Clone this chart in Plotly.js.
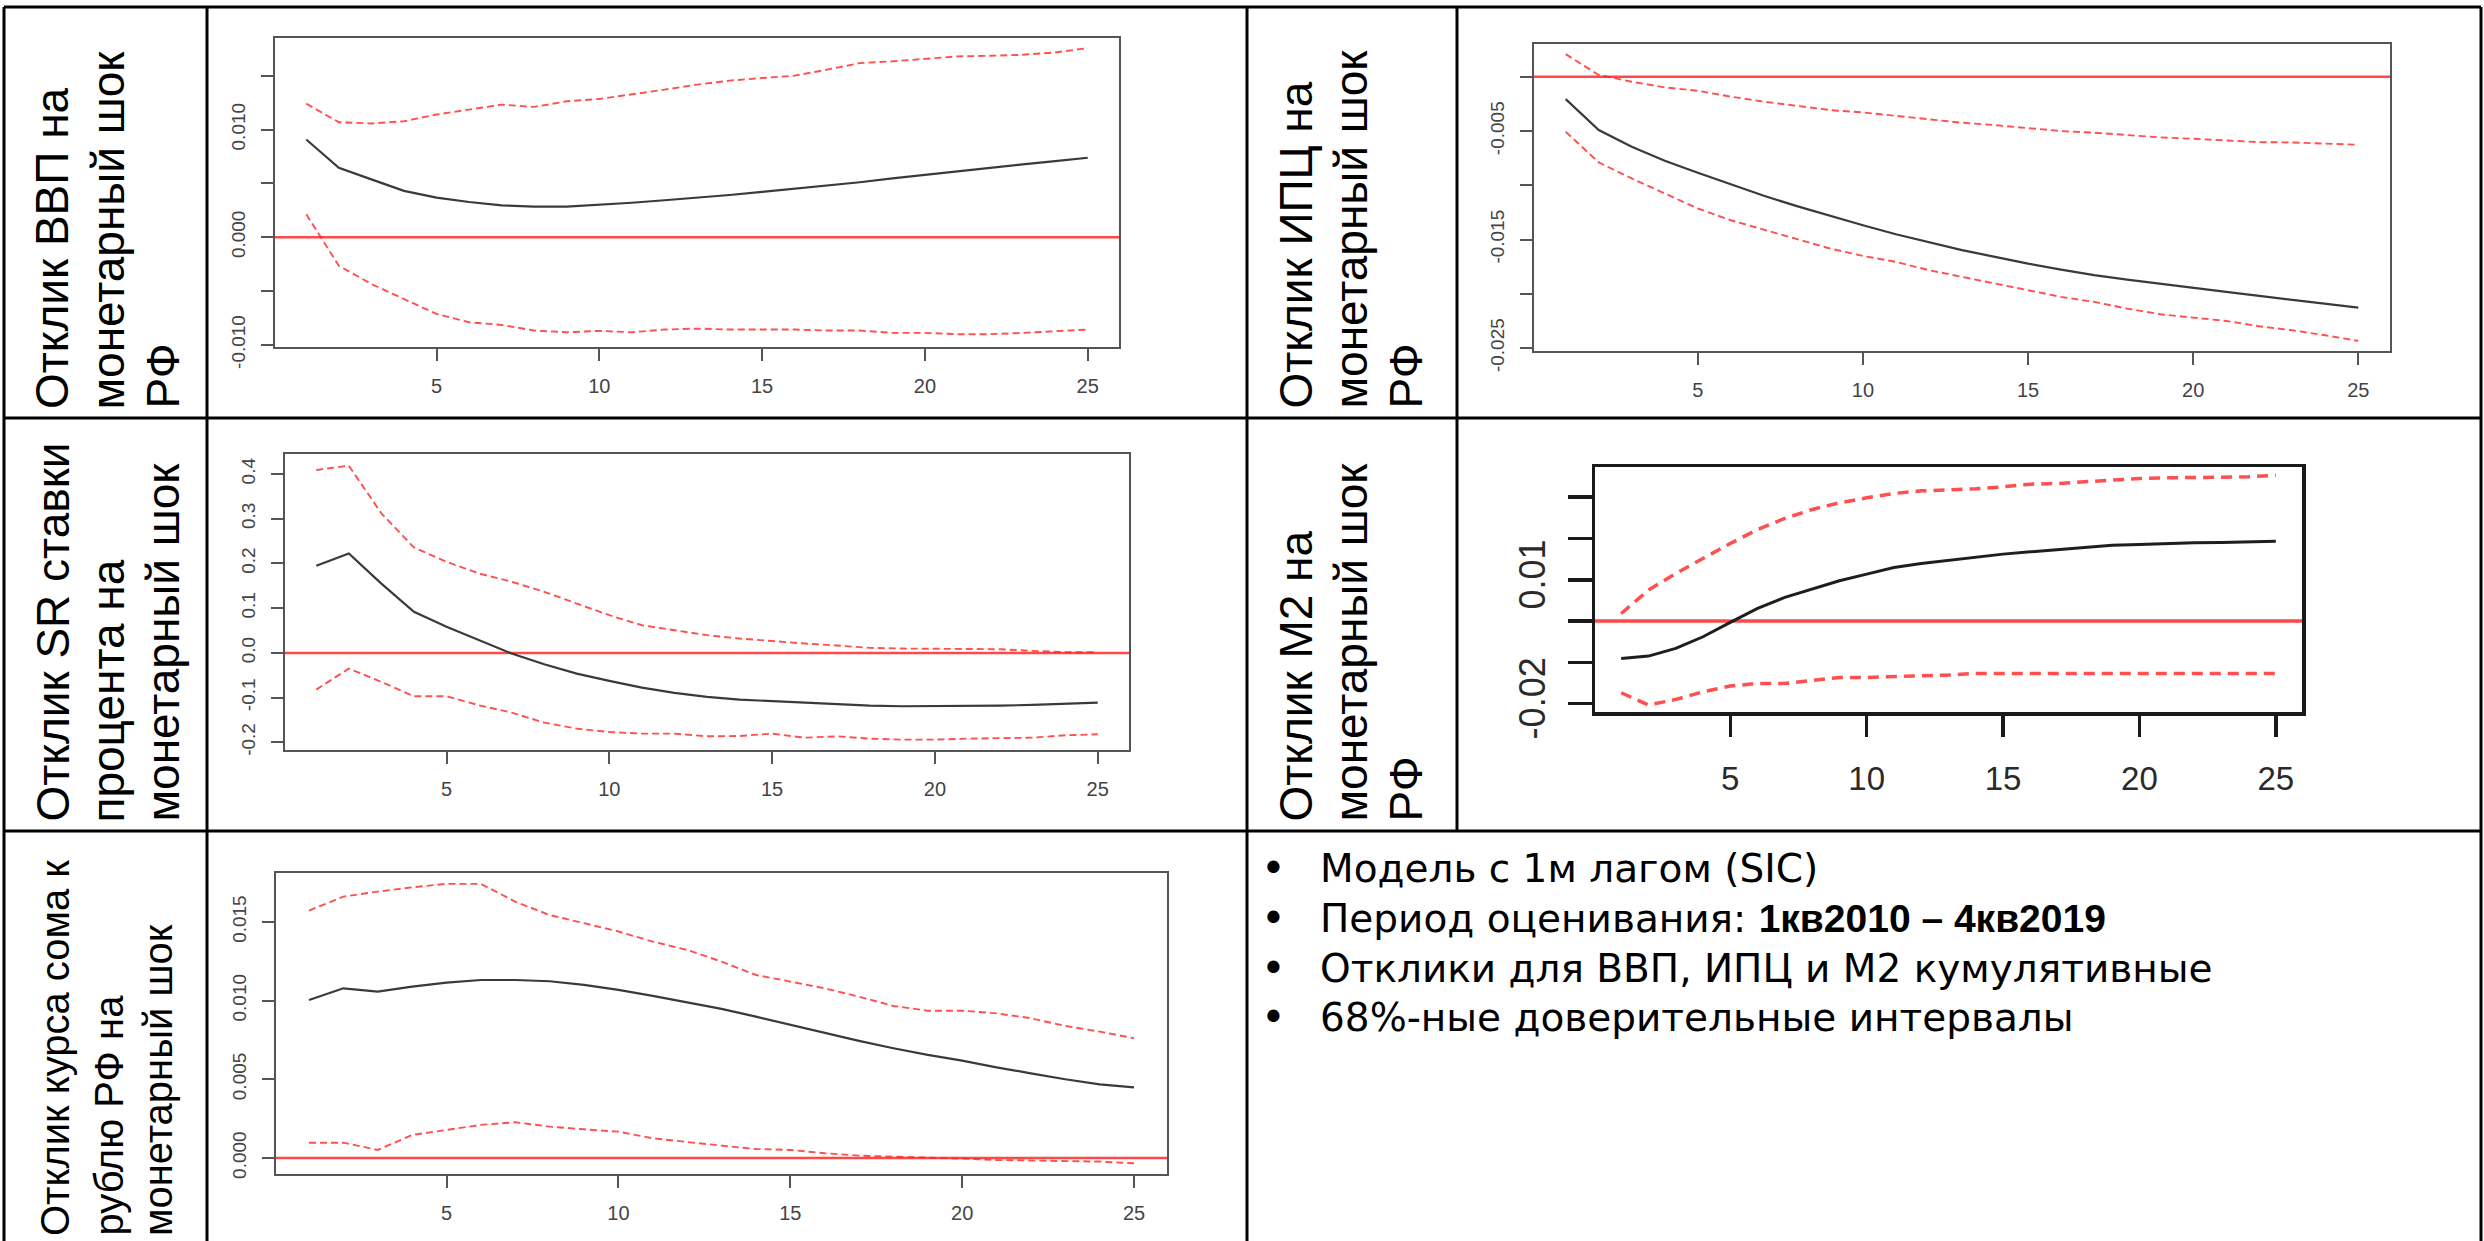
<!DOCTYPE html>
<html><head><meta charset="utf-8">
<script src="https://cdn.plot.ly/plotly-3.0.1.min.js"></script>
<style>html,body{margin:0;padding:0;background:#fff;overflow:hidden}#chart{width:2484px;height:1241px}</style>
</head><body><div id="chart"></div>
<script>
const W = 2484, H = 1241;

// ---------- data ----------
const horizon = [1,2,3,4,5,6,7,8,9,10,11,12,13,14,15,16,17,18,19,20,21,22,23,24,25];
const xTickVals = [5,10,15,20,25];

const gdpResp  = [0.00907,0.00645,0.00537,0.0043,0.00367,0.00327,0.00296,0.00284,0.00284,0.0030,0.0032,0.00343,0.00364,0.00392,0.0042,0.00448,0.00478,0.0051,0.00546,0.0058,0.00614,0.00645,0.00676,0.00707,0.00738];
const gdpUpper = [0.0124,0.01068,0.01056,0.01077,0.01139,0.01185,0.01231,0.0121,0.01262,0.01284,0.01324,0.0137,0.01417,0.01454,0.01478,0.015,0.01556,0.01617,0.01633,0.01654,0.01679,0.01685,0.01694,0.01716,0.01756];
const gdpLower = [0.00213,-0.00265,-0.00435,-0.00574,-0.00713,-0.0079,-0.00815,-0.00867,-0.00883,-0.0087,-0.00883,-0.00858,-0.00849,-0.00858,-0.00858,-0.00858,-0.00867,-0.00867,-0.00889,-0.00889,-0.00901,-0.00901,-0.00889,-0.00877,-0.00858];
const gdpTickVals = [-0.01,-0.005,0,0.005,0.01,0.015];
const gdpTickText = ['-0.010','','0.000','','0.010',''];

const cpiResp  = [-0.00205,-0.0049,-0.00645,-0.00774,-0.00885,-0.00992,-0.01097,-0.01192,-0.01282,-0.01368,-0.01451,-0.01528,-0.01598,-0.0166,-0.01722,-0.01777,-0.01829,-0.01869,-0.01909,-0.01946,-0.01983,-0.0202,-0.02057,-0.02094,-0.02128];
const cpiUpper = [0.0021,0.00017,-0.00045,-0.00097,-0.00128,-0.00183,-0.00229,-0.00269,-0.00306,-0.00328,-0.00362,-0.00392,-0.00423,-0.00445,-0.00475,-0.005,-0.00515,-0.00537,-0.00558,-0.00571,-0.00589,-0.00602,-0.00605,-0.00614,-0.00626];
const cpiLower = [-0.00506,-0.00789,-0.00937,-0.01075,-0.01214,-0.01322,-0.01408,-0.01491,-0.01583,-0.01651,-0.01706,-0.01783,-0.01845,-0.01912,-0.01974,-0.02029,-0.02075,-0.02137,-0.02189,-0.0222,-0.02251,-0.023,-0.02337,-0.02383,-0.02435];
const cpiTickVals = [-0.025,-0.02,-0.015,-0.01,-0.005,0];
const cpiTickText = ['-0.025','','-0.015','','-0.005',''];

const srResp  = [0.1948,0.2224,0.155,0.0918,0.0582,0.0284,-0.0015,-0.0254,-0.0463,-0.0627,-0.0776,-0.0896,-0.0985,-0.1045,-0.1082,-0.1119,-0.1157,-0.1179,-0.1194,-0.1194,-0.1187,-0.1179,-0.1164,-0.1134,-0.1112];
const srUpper = [0.409,0.4187,0.312,0.2358,0.2037,0.1776,0.159,0.1366,0.1104,0.0843,0.0619,0.0507,0.0396,0.0321,0.0261,0.0209,0.0164,0.0112,0.0097,0.0097,0.0097,0.0082,0.0045,0.0015,0.0015];
const srLower = [-0.0821,-0.0351,-0.0649,-0.097,-0.097,-0.1172,-0.1336,-0.156,-0.1694,-0.1769,-0.1806,-0.1806,-0.1866,-0.1858,-0.1806,-0.1896,-0.1866,-0.1918,-0.194,-0.194,-0.1918,-0.1903,-0.1896,-0.1843,-0.1821];
const srTickVals = [-0.2,-0.1,0,0.1,0.2,0.3,0.4];
const srTickText = ['-0.2','-0.1','0.0','0.1','0.2','0.3','0.4'];

const m2Resp  = [-0.00903,-0.00847,-0.00661,-0.00379,-0.00032,0.00306,0.00573,0.00774,0.00976,0.01137,0.01298,0.01395,0.01476,0.01556,0.01621,0.01677,0.01734,0.01782,0.01839,0.01855,0.01879,0.01895,0.01903,0.01927,0.01935];
const m2Upper = [0.00185,0.0075,0.01153,0.01516,0.01879,0.02218,0.02484,0.02702,0.02863,0.02984,0.03089,0.03153,0.03169,0.03202,0.0325,0.03315,0.03331,0.03371,0.03427,0.03452,0.03468,0.03468,0.03484,0.03492,0.03532];
const m2Lower = [-0.01734,-0.02032,-0.01895,-0.0171,-0.01573,-0.01508,-0.01508,-0.01427,-0.01363,-0.01363,-0.01347,-0.01323,-0.01306,-0.01266,-0.01266,-0.01266,-0.01266,-0.01266,-0.01266,-0.01266,-0.01266,-0.01266,-0.01266,-0.01266,-0.01266];
const m2TickVals = [-0.02,-0.01,0,0.01,0.02,0.03];
const m2TickText = ['-0.02','','','0.01','',''];

const fxResp  = [0.01004,0.01078,0.01057,0.01089,0.01114,0.01131,0.01131,0.01123,0.011,0.01068,0.0103,0.00989,0.00947,0.00898,0.00845,0.00792,0.00744,0.00697,0.00655,0.00619,0.00576,0.00538,0.005,0.00468,0.00449];
const fxUpper = [0.01572,0.01661,0.01693,0.0172,0.01742,0.01742,0.01629,0.01544,0.01492,0.01439,0.01375,0.01322,0.01248,0.01163,0.01121,0.01078,0.01025,0.00966,0.00936,0.00936,0.00919,0.00888,0.00839,0.00803,0.00761];
const fxLower = [0.00097,0.00097,0.00051,0.00146,0.00178,0.0021,0.00227,0.00199,0.00182,0.00167,0.00125,0.001,0.00078,0.00057,0.00051,0.0003,0.00015,0.00008,0.00004,-0.00004,-0.00013,-0.00017,-0.00017,-0.00023,-0.00034];
const fxTickVals = [0,0.005,0.01,0.015];
const fxTickText = ['0.000','0.005','0.010','0.015'];

const rowLabels1 = ['Отклик ВВП на','монетарный шок','РФ'];
const rowLabels2 = ['Отклик ИПЦ на','монетарный шок','РФ'];
const rowLabels3 = ['Отклик SR ставки','процента на','монетарный шок'];
const rowLabels4 = ['Отклик М2 на','монетарный шок','РФ'];
const rowLabels5 = ['Отклик курса сома к','рублю РФ на','монетарный шок'];

const bulletLines = [
  'Модель с 1м лагом (SIC)',
  'Период оценивания: <b style="font-family:Liberation Sans, Arial, sans-serif">1кв2010 – 4кв2019</b>',
  'Отклики для ВВП, ИПЦ и М2 кумулятивные',
  '68%-ные доверительные интервалы'
];

// ---------- layout helpers ----------
const px = x => x / W;
const py = y => 1 - y / H;
const NARROW = 'Liberation Sans Narrow, Arial Narrow, Liberation Sans, Arial, sans-serif';
const SANS = 'Liberation Sans, Arial, sans-serif';

const panels = [
  {box:[275,38,1119,347],  yr:[-0.0102,0.0185],  tv:gdpTickVals, tt:gdpTickText, r:gdpResp, u:gdpUpper, l:gdpLower, big:false},
  {box:[1534,44,2390,351], yr:[-0.02528,0.00303], tv:cpiTickVals, tt:cpiTickText, r:cpiResp, u:cpiUpper, l:cpiLower, big:false},
  {box:[285,454,1129,750], yr:[-0.2172,0.4448],  tv:srTickVals,  tt:srTickText,  r:srResp,  u:srUpper,  l:srLower,  big:false},
  {box:[1595,467,2302,712],yr:[-0.0220,0.0373],  tv:m2TickVals,  tt:m2TickText,  r:m2Resp,  u:m2Upper,  l:m2Lower,  big:true},
  {box:[276,873,1167,1174],yr:[-0.00102,0.01811],tv:fxTickVals,  tt:fxTickText,  r:fxResp,  u:fxUpper,  l:fxLower,  big:false}
];

const data = [];
const layout = {
  width: W, height: H,
  margin: {l:0, r:0, t:0, b:0},
  paper_bgcolor: '#ffffff', plot_bgcolor: '#ffffff',
  showlegend: false,
  shapes: [], annotations: []
};

panels.forEach((p, i) => {
  const n = i === 0 ? '' : String(i + 1);
  const [L, T, R, B] = p.box;
  const axCol = p.big ? '#1a1a1a' : '#555555';
  const lw = p.big ? 3.5 : 2;
  layout['xaxis' + n] = {
    domain: [px(L), px(R)], range: [0.04, 25.96], anchor: 'y' + n,
    tickvals: xTickVals, ticks: 'outside', ticklen: p.big ? 21 : 12, tickwidth: lw, tickcolor: axCol,
    showline: true, linecolor: axCol, linewidth: lw, mirror: true,
    showgrid: false, zeroline: false, fixedrange: true,
    tickfont: {family: NARROW, size: p.big ? 33 : 20, color: p.big ? '#2a2a2a' : '#444444'},
    ticklabelstandoff: p.big ? 14 : 8
  };
  layout['yaxis' + n] = {
    domain: [py(B), py(T)], range: p.yr, anchor: 'x' + n,
    tickvals: p.tv, ticktext: p.tt, tickangle: -90,
    ticks: 'outside', ticklen: p.big ? 24 : 12, tickwidth: lw, tickcolor: axCol,
    showline: true, linecolor: axCol, linewidth: lw, mirror: true,
    showgrid: false, zeroline: false, fixedrange: true,
    tickfont: {family: NARROW, size: p.big ? 36 : 19, color: p.big ? '#2a2a2a' : '#444444'},
    ticklabelstandoff: 8
  };
  const xa = 'x' + n, ya = 'y' + n;
  const redDash = {color: 'rgba(255,35,35,0.8)', width: p.big ? 3.5 : 1.9, dash: p.big ? '11px,7px' : '7px,4px'};
  data.push({x: horizon, y: p.u, xaxis: xa, yaxis: ya, type: 'scatter', mode: 'lines', line: redDash});
  data.push({x: horizon, y: p.l, xaxis: xa, yaxis: ya, type: 'scatter', mode: 'lines', line: redDash});
  data.push({x: horizon, y: p.r, xaxis: xa, yaxis: ya, type: 'scatter', mode: 'lines',
    line: {color: p.big ? '#1e1e1e' : '#3a3a3a', width: p.big ? 3 : 2.2}});
  layout.shapes.push({type: 'line', layer: 'below', xref: xa + ' domain', yref: ya,
    x0: 0, x1: 1, y0: 0, y1: 0, line: {color: 'rgba(255,40,40,0.85)', width: p.big ? 3.5 : 2.5}});
});

// ---------- table grid ----------
const gridLines = [
  [4, 7, 2481, 7], [4, 418, 2481, 418], [4, 831, 2481, 831],
  [4, 7, 4, 1241], [2481, 7, 2481, 1241],
  [207, 7, 207, 1241], [1247, 7, 1247, 1241], [1457, 7, 1457, 831]
];
gridLines.forEach(g => layout.shapes.push({type: 'line', xref: 'paper', yref: 'paper',
  x0: px(g[0]), y0: py(g[1]), x1: px(g[2]), y1: py(g[3]), line: {color: '#000', width: 3}}));

// ---------- rotated row labels ----------
function addLabels(lines, cellLeft, bottom, size, offsets) {
  lines.forEach((t, k) => layout.annotations.push({
    text: t, showarrow: false, textangle: -90, xref: 'paper', yref: 'paper',
    x: px(cellLeft + offsets[k]), y: py(bottom), xanchor: 'center', yanchor: 'bottom',
    font: {family: SANS, size: size, color: '#000'}
  }));
}
addLabels(rowLabels1, 4, 411, 46, [48, 103, 158]);
addLabels(rowLabels2, 1247, 411, 46, [48, 103, 158]);
addLabels(rowLabels3, 4, 824, 46, [48, 103, 158]);
addLabels(rowLabels4, 1247, 824, 46, [48, 103, 158]);
addLabels(rowLabels5, 4, 1238, 40, [51, 104, 154]);

// ---------- bullet list ----------
const FONT_B = 'DejaVu Sans, sans-serif';
const bulletY = [868, 918, 968, 1018];
bulletLines.forEach((t, k) => {
  layout.annotations.push({text: '•', showarrow: false, xref: 'paper', yref: 'paper',
    x: px(1274), y: py(bulletY[k]), xanchor: 'center', yanchor: 'middle',
    font: {family: FONT_B, size: 42, color: '#000'}});
  layout.annotations.push({text: t, showarrow: false, xref: 'paper', yref: 'paper',
    x: px(1318), y: py(bulletY[k]), xanchor: 'left', yanchor: 'middle',
    font: {family: FONT_B, size: 39, color: '#000'}});
});

Plotly.newPlot('chart', data, layout, {displayModeBar: false, staticPlot: true});
</script></body></html>
